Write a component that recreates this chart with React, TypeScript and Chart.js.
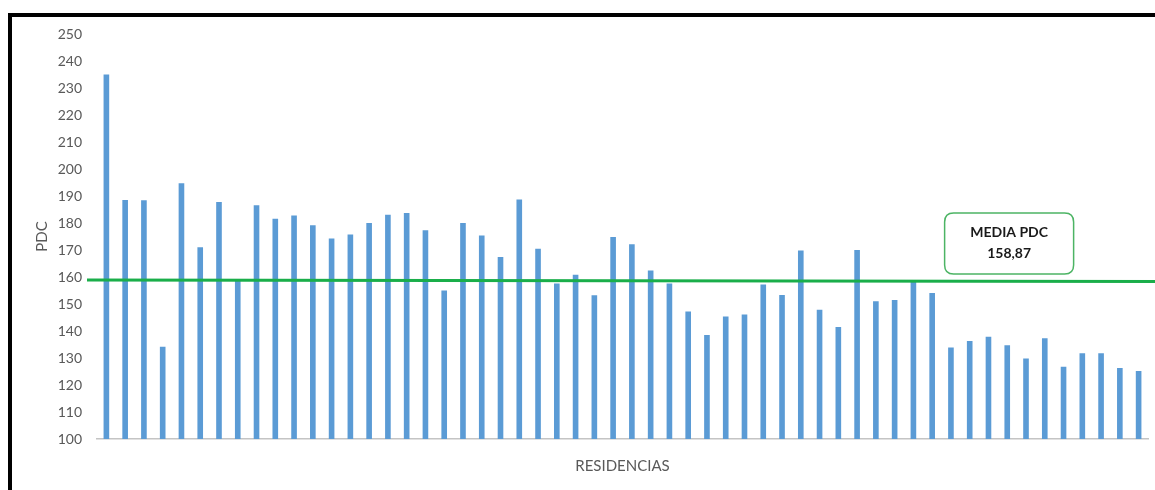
import React, { useEffect, useRef } from "react";
import { Chart, registerables } from "chart.js";

Chart.register(...registerables);

const residencias = [
  "R1", "R2", "R3", "R4", "R5", "R6", "R7", "R8", "R9", "R10",
  "R11", "R12", "R13", "R14", "R15", "R16", "R17", "R18", "R19", "R20",
  "R21", "R22", "R23", "R24", "R25", "R26", "R27", "R28", "R29", "R30",
  "R31", "R32", "R33", "R34", "R35", "R36", "R37", "R38", "R39", "R40",
  "R41", "R42", "R43", "R44", "R45", "R46", "R47", "R48", "R49", "R50",
  "R51", "R52", "R53", "R54", "R55", "R56",
];

const pdc = [
  235, 188.5, 188.4, 134.2, 194.7, 171, 187.8, 158.9, 186.6, 181.6,
  182.8, 179.2, 174.3, 175.7, 180, 183.1, 183.7, 177.3, 155, 180,
  175.4, 167.4, 188.7, 170.5, 157.6, 160.8, 153.2, 174.8, 172.1, 162.4,
  157.6, 147.2, 138.5, 145.4, 146.1, 157.2, 153.3, 169.8, 147.9, 141.5,
  170, 151, 151.5, 158.6, 154.1, 133.9, 136.3, 137.9, 134.7, 129.8,
  137.3, 126.8, 131.8, 131.8, 126.3, 125.2,
];

const mediaPDC = 158.87;
const mediaLabel = ["MEDIA PDC", "158,87"];
const yTitle = "PDC";
const xTitle = "RESIDENCIAS";

const overlayPlugin = {
  id: "overlay",
  beforeDraw(chart: any) {
    const ctx = chart.ctx;
    ctx.save();
    ctx.fillStyle = "#ffffff";
    ctx.fillRect(0, 0, chart.width, chart.height);
    ctx.fillStyle = "#000000";
    ctx.fillRect(8, 13, 4, chart.height - 13);
    ctx.fillRect(8, 13, chart.width - 8, 4);
    ctx.restore();
  },
  afterDatasetsDraw(chart: any) {
    const ctx = chart.ctx;
    const y = chart.scales.y;
    const x = chart.scales.x;
    const area = chart.chartArea;
    const yPix = y.getPixelForValue(mediaPDC);
    ctx.save();
    ctx.strokeStyle = "#1aae4a";
    ctx.lineWidth = 3;
    ctx.beginPath();
    ctx.moveTo(area.left - 10, yPix);
    ctx.lineTo(chart.width, yPix + 1.5);
    ctx.stroke();

    // annotation box
    const cx = x.getPixelForValue(48.1);
    const bw = 129;
    const bh = 61;
    const bx = cx - bw / 2;
    const by = yPix - 6 - bh;
    const r = 9;
    ctx.beginPath();
    ctx.moveTo(bx + r, by);
    ctx.lineTo(bx + bw - r, by);
    ctx.quadraticCurveTo(bx + bw, by, bx + bw, by + r);
    ctx.lineTo(bx + bw, by + bh - r);
    ctx.quadraticCurveTo(bx + bw, by + bh, bx + bw - r, by + bh);
    ctx.lineTo(bx + r, by + bh);
    ctx.quadraticCurveTo(bx, by + bh, bx, by + bh - r);
    ctx.lineTo(bx, by + r);
    ctx.quadraticCurveTo(bx, by, bx + r, by);
    ctx.closePath();
    ctx.fillStyle = "#ffffff";
    ctx.fill();
    ctx.strokeStyle = "#4cb464";
    ctx.lineWidth = 1.5;
    ctx.stroke();
    ctx.fillStyle = "#1a1a1a";
    ctx.font = "bold 14px Lato";
    ctx.textAlign = "center";
    ctx.textBaseline = "middle";
    ctx.fillText(mediaLabel[0], cx, by + 19);
    ctx.fillText(mediaLabel[1], cx, by + 40);
    ctx.restore();
  },
};

export default function App() {
  const ref = useRef<HTMLCanvasElement>(null);
  useEffect(() => {
    if (!ref.current) return;
    const chart = new Chart(ref.current, {
      type: "bar",
      data: {
        labels: residencias,
        datasets: [
          {
            data: pdc,
            backgroundColor: "#5b9bd5",
            barPercentage: 0.3,
            categoryPercentage: 1,
          },
        ],
      },
      options: {
        responsive: false,
        animation: false,
        layout: { padding: { left: 0, right: 7, top: 34, bottom: 0 } },
        plugins: {
          legend: { display: false },
          tooltip: { enabled: false },
        },
        scales: {
          x: {
            grid: { display: false, drawTicks: false },
            border: { display: true, color: "#c4c4c4", width: 1.5 },
            ticks: { display: false },
            title: {
              display: true,
              text: xTitle,
              color: "#595959",
              font: { family: "Lato", size: 15 },
              padding: { top: 0, bottom: 15 },
            },
            afterFit(scale: any) {
              scale.height = 51;
            },
          },
          y: {
            min: 100,
            max: 250,
            grid: { display: false, drawTicks: false },
            border: { display: false },
            ticks: {
              stepSize: 10,
              color: "#595959",
              font: { family: "Lato", size: 14 },
              padding: 15,
            },
            title: {
              display: true,
              text: yTitle,
              color: "#595959",
              font: { family: "Lato", size: 15 },
              padding: { top: 33, bottom: 0 },
            },
            afterFit(scale: any) {
              scale.width = 97;
            },
          },
        },
      },
      plugins: [overlayPlugin],
    });
    return () => chart.destroy();
  }, []);
  return (
    <div style={{ position: "absolute", left: 0, top: 0, width: 1155, height: 490 }}>
      <canvas ref={ref} width={1155} height={490} />
    </div>
  );
}
